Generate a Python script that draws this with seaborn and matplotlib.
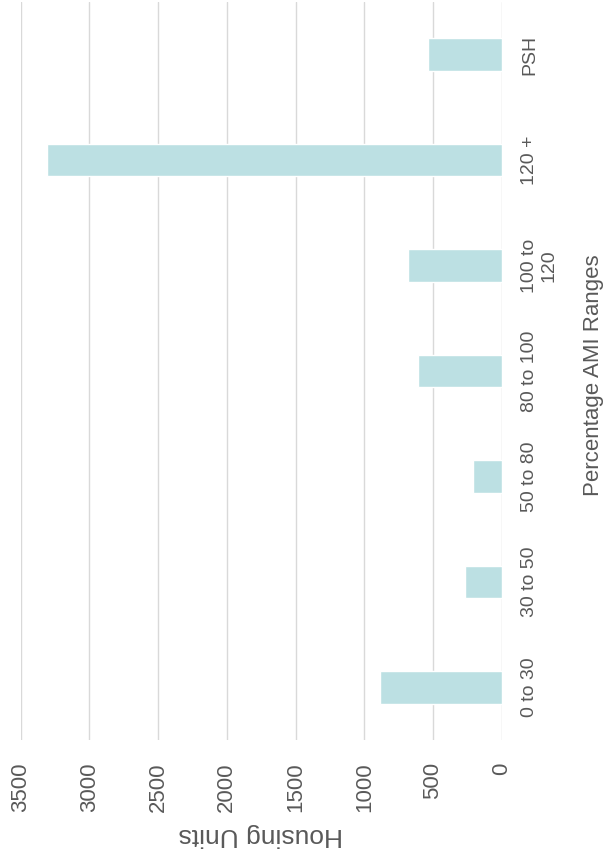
import matplotlib
matplotlib.use("Agg")
import matplotlib.pyplot as plt
import seaborn as sns
import pandas as pd

# Data (categories from lowest to highest AMI, then PSH)
categories = ["0 to 30", "30 to 50", "50 to 80", "80 to 100", "100 to\n120", "120 +", "PSH"]
housing_units = [886, 270, 209, 607, 684, 3309, 534]
value_ticks = [0, 500, 1000, 1500, 2000, 2500, 3000, 3500]

df = pd.DataFrame({"range": categories, "units": housing_units})

sns.set_theme(style="white")
plt.rcParams["font.family"] = ["Liberation Sans", "DejaVu Sans"]

text_color = "#595959"
grid_color = "#d9d9d9"
bar_color = "#bce0e3"

fig = plt.figure(figsize=(6.09, 8.60), dpi=100)
ax = fig.add_axes([20.7 / 609, 1 - 740 / 860, (501.7 - 20.7) / 609, (740 - 2) / 860])

order = categories[::-1]  # PSH at top, 0 to 30 at bottom
sns.barplot(data=df, x="units", y="range", order=order, orient="h",
            color=bar_color, width=0.31, saturation=1, ax=ax, zorder=3)

ax.set_xlim(3500, 0)
ax.set_xticks(value_ticks)
ax.set_xticklabels([str(v) for v in value_ticks], rotation=90, va="top", ha="center",
                   fontsize=16, color=text_color)
ax.tick_params(axis="x", length=0, pad=16)

ax.yaxis.tick_right()
ax.yaxis.set_label_position("right")
ax.set_yticks(range(len(order)))
ax.set_yticklabels(order, rotation=90, va="center", ha="left", fontsize=14,
                   color=text_color, multialignment="center")
ax.tick_params(axis="y", length=0, pad=14)

ax.grid(axis="x", color=grid_color, linewidth=1.0, zorder=0)
ax.grid(axis="y", visible=False)
for s in ax.spines.values():
    s.set_visible(False)

ax.set_xlabel("Housing Units", rotation=180, fontsize=19, color=text_color,
              va="center", ha="center")
ax.xaxis.set_label_coords(0.5, -(835 - 740) / 738)
ax.set_ylabel("Percentage AMI Ranges", rotation=90, fontsize=16, color=text_color,
              va="center", ha="center")
ax.yaxis.set_label_coords((594 - 20.7) / 481, (740 - 375) / 738)

fig.savefig("out.png", dpi=100)
